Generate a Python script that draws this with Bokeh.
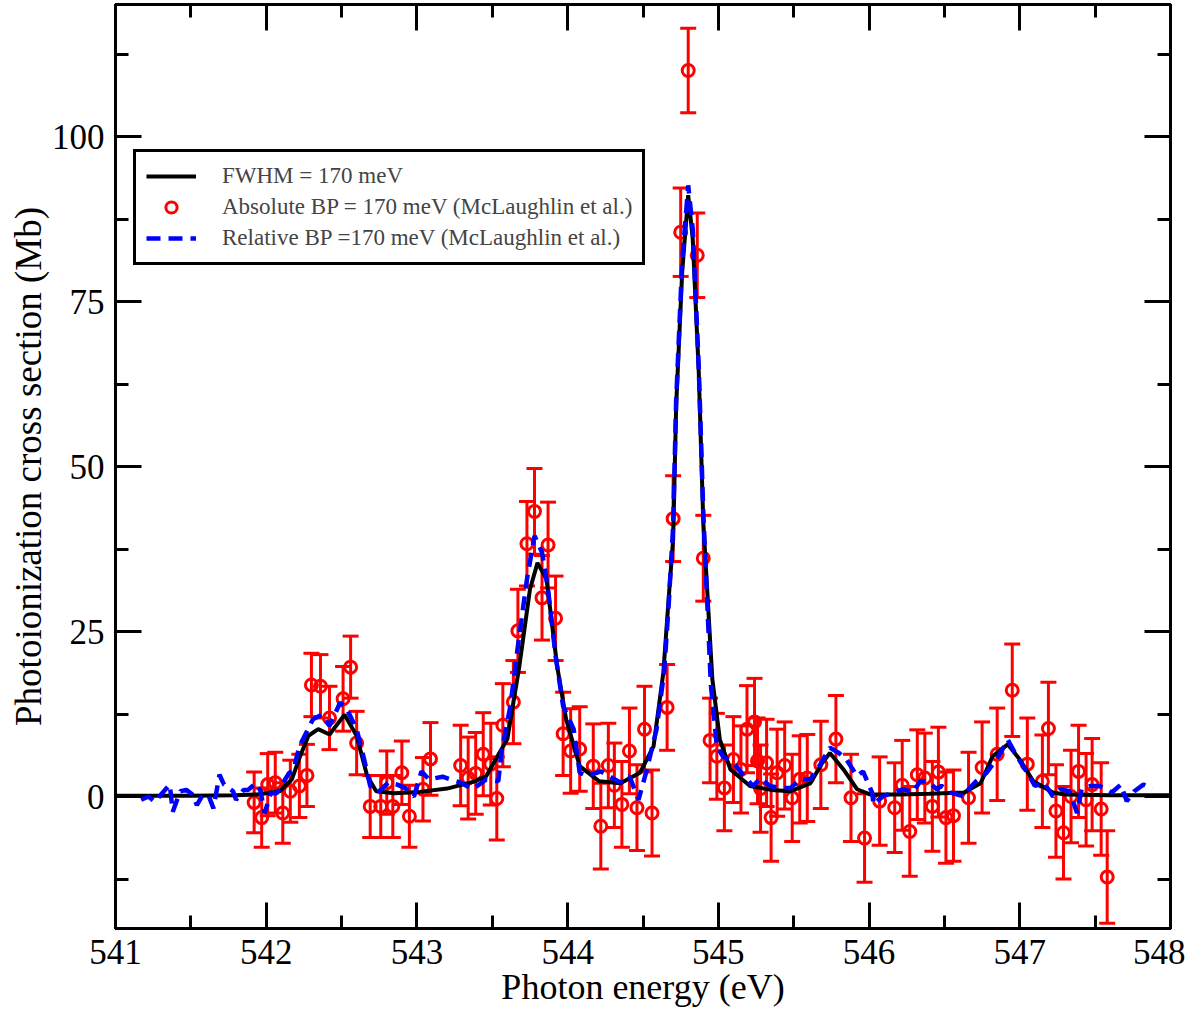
from bokeh.plotting import figure
from bokeh.models import (ColumnDataSource, Whisker, TeeHead, Legend, LegendItem,
                          LinearAxis, Range1d, SingleIntervalTicker, CustomLabelingPolicy)
from bokeh.embed import file_html
from bokeh.resources import INLINE

# theory curve, FWHM = 170 meV
fit_x = [541.0, 541.5, 541.8, 541.94, 542.09, 542.17, 542.225, 542.28, 542.345, 542.42,
         542.52, 542.60, 542.67, 542.73, 542.85, 543.02, 543.2, 543.385, 543.46, 543.60,
         543.68, 543.75, 543.80, 543.86, 543.93, 543.99, 544.08, 544.21, 544.35, 544.48,
         544.57, 544.635, 544.67, 544.70, 544.72, 544.76, 544.80, 544.83, 544.87, 544.90,
         544.96, 545.01, 545.08, 545.21, 545.35, 545.48, 545.61, 545.69, 545.74, 545.83,
         545.92, 546.01, 546.2, 546.4, 546.63, 546.74, 546.82, 546.92, 547.00, 547.09,
         547.22, 547.3, 547.6, 548.0]
fit_y = [0.1, 0.1, 0.2, 0.3, 0.8, 2.6, 6.1, 9.2, 10.2, 9.4,
         12.4, 9.2, 3.1, 0.8, 0.5, 0.7, 1.2, 2.3, 3.1, 8.7,
         19.8, 31.4, 35.4, 32.9, 19.8, 11.7, 4.6, 2.3, 2.0, 3.6,
         7.6, 18.8, 29.9, 39.0, 59.2, 79.5, 91.1, 84.5, 64.3, 41.6,
         17.8, 8.6, 4.1, 1.6, 1.0, 0.8, 2.0, 5.1, 6.6, 4.1,
         1.1, 0.3, 0.3, 0.4, 0.6, 2.0, 6.1, 7.9, 5.6, 2.3,
         0.6, 0.3, 0.2, 0.2]

# absolute measurement (McLaughlin et al.)
abs_x = [541.92, 541.97, 542.01, 542.06, 542.11, 542.16, 542.22, 542.27, 542.30, 542.36,
         542.42, 542.51, 542.56, 542.60, 542.69, 542.76, 542.80, 542.84, 542.90, 542.95,
         543.04, 543.09, 543.29, 543.34, 543.39, 543.44, 543.49, 543.53, 543.57, 543.64,
         543.67, 543.73, 543.78, 543.83, 543.87, 543.92, 543.97, 544.02, 544.08, 544.17,
         544.22, 544.27, 544.31, 544.36, 544.41, 544.46, 544.51, 544.56, 544.66, 544.70,
         544.75, 544.80, 544.86, 544.90, 544.945, 544.99, 545.04, 545.10, 545.15, 545.19,
         545.24, 545.26, 545.28, 545.32, 545.35, 545.39, 545.44, 545.49, 545.54, 545.59,
         545.68, 545.78, 545.88, 545.97, 546.07, 546.17, 546.22, 546.27, 546.32, 546.37,
         546.42, 546.46, 546.51, 546.56, 546.66, 546.75, 546.85, 546.95, 547.05, 547.15,
         547.19, 547.24, 547.29, 547.34, 547.39, 547.44, 547.48, 547.54, 547.58]
abs_y = [-0.9, -3.2, 1.8, 2.1, -2.5, 0.8, 1.6, 3.2, 16.9, 16.7,
         11.9, 14.8, 19.6, 8.1, -1.5, -1.5, 2.1, -1.5, 3.6, -3.0,
         1.1, 5.7, 4.7, 2.8, 3.5, 6.4, 4.9, -0.3, 10.8, 14.3,
         25.1, 38.3, 43.2, 30.1, 38.1, 27.0, 9.5, 6.9, 7.2, 4.6,
         -4.5, 4.7, 1.7, -1.2, 6.9, -1.7, 10.2, -2.5, 13.5, 42.1,
         85.5, 110.0, 82.0, 36.1, 8.5, 6.1, 1.3, 5.6, 4.1, 10.2,
         11.3, 5.4, 1.2, 5.1, -3.2, 3.6, 4.7, -0.2, 2.6, 2.8,
         4.8, 8.7, -0.2, -6.3, -0.7, -1.7, 1.7, -5.3, 3.3, 2.8,
         -1.5, 3.7, -3.2, -2.9, -0.2, 4.4, 6.4, 16.1, 4.9, 2.3,
         10.3, -2.2, -5.5, 0.0, 3.8, -0.5, 1.8, -1.9, -12.2]
abs_err = [4.6, 4.5, 4.7, 4.6, 4.6, 4.7, 4.8, 4.7, 4.8, 4.8,
           4.8, 4.9, 4.7, 4.8, 4.7, 4.7, 4.8, 4.7, 4.8, 4.7,
           4.8, 5.5, 6.1, 6.2, 6.2, 6.3, 6.2, 6.3, 6.3, 6.3,
           6.3, 6.4, 6.5, 6.4, 6.5, 6.4, 6.3, 6.4, 6.4, 6.4,
           6.5, 6.4, 6.4, 6.5, 6.5, 6.5, 6.5, 6.5, 6.5, 6.5,
           6.7, 6.4, 6.4, 6.5, 6.4, 6.5, 6.5, 6.5, 6.6, 6.6,
           6.6, 6.5, 6.6, 6.6, 6.6, 6.6, 6.6, 6.6, 6.6, 6.6,
           6.6, 6.6, 6.6, 6.7, 6.7, 6.8, 6.8, 6.8, 6.8, 6.8,
           6.8, 6.8, 6.9, 6.9, 6.9, 6.9, 7.0, 7.0, 7.0, 7.0,
           7.0, 7.0, 7.0, 7.0, 7.0, 7.0, 7.0, 7.0, 7.0]

# relative measurement (McLaughlin et al.)
rel_x = [541.17, 541.22, 541.26, 541.34, 541.36, 541.38, 541.43, 541.47, 541.51, 541.54,
         541.58, 541.62, 541.65, 541.69, 541.72, 541.78, 541.80, 541.85, 541.88, 541.93,
         541.96, 541.99, 542.03, 542.07, 542.11, 542.15, 542.18, 542.22, 542.31, 542.37,
         542.42, 542.49, 542.53, 542.60, 542.65, 542.69, 542.74, 542.81, 542.87, 542.92,
         542.98, 543.03, 543.08, 543.17, 543.29, 543.37, 543.46, 543.54, 543.56, 543.62,
         543.67, 543.73, 543.78, 543.83, 543.87, 543.92, 543.97, 544.04, 544.08, 544.13,
         544.22, 544.35, 544.41, 544.47, 544.52, 544.59, 544.64, 544.67, 544.70, 544.72,
         544.76, 544.80, 544.83, 544.87, 544.90, 544.95, 544.99, 545.03, 545.10, 545.17,
         545.23, 545.28, 545.34, 545.41, 545.48, 545.54, 545.61, 545.67, 545.74, 545.80,
         545.85, 545.92, 545.96, 546.02, 546.03, 546.09, 546.16, 546.23, 546.29, 546.34,
         546.39, 546.45, 546.48, 546.54, 546.63, 546.66, 546.71, 546.78, 546.86, 546.92,
         546.98, 547.05, 547.10, 547.16, 547.22, 547.27, 547.33, 547.38, 547.41, 547.47,
         547.53, 547.61, 547.67, 547.71, 547.76, 547.82, 547.88]
rel_y = [-0.5, 0.0, -0.8, 1.3, 1.8, -2.3, 0.8, 1.0, 0.3, -1.3,
         0.3, 0.0, -1.8, 3.3, 1.8, 0.8, -0.5, 1.0, 1.0, 2.0,
         1.0, -2.5, 0.5, 0.5, 2.0, 3.5, 4.0, 7.6, 11.7, 12.4,
         10.7, 14.2, 13.5, 10.2, 5.6, 1.6, 0.6, 2.1, 1.8, 1.3,
         0.0, 3.8, 2.6, 3.0, 2.1, 1.1, 2.6, 2.3, 6.6, 13.7,
         22.8, 32.9, 39.5, 37.0, 31.4, 21.3, 13.7, 10.2, 3.6, 3.1,
         3.8, 2.1, 3.1, -0.5, 3.6, 10.2, 18.8, 28.9, 41.0, 60.0,
         81.0, 92.6, 86.0, 65.0, 43.0, 17.0, 7.6, 6.1, 5.1, 3.1,
         1.6, 2.8, 1.6, 1.3, 1.3, 2.6, 2.6, 4.6, 7.4, 6.6,
         5.6, 3.1, 3.8, 0.6, -1.2, 0.0, 0.6, 1.1, 0.6, 2.3,
         2.3, 1.1, 1.6, 0.6, 0.0, 1.1, 2.3, 3.6, 6.1, 8.6,
         6.1, 3.6, 1.6, 2.1, 0.0, 1.1, 0.8, -2.5, 1.1, 1.6,
         1.6, 0.6, 1.8, -0.7, 0.8, 1.8, 1.1]

SERIF = "Liberation Serif"

abs_src = ColumnDataSource(data=dict(
    x=abs_x, y=abs_y,
    upper=[y + e for y, e in zip(abs_y, abs_err)],
    lower=[y - e for y, e in zip(abs_y, abs_err)],
))

p = figure(width=1185, height=1009, x_range=Range1d(541, 548), y_range=Range1d(-20, 120),
           output_backend="svg", toolbar_location=None,
           min_border_left=115, min_border_right=15, min_border_top=4, min_border_bottom=70)
p.grid.visible = False
p.outline_line_color = "black"
p.outline_line_width = 3

xticker = SingleIntervalTicker(interval=1, num_minor_ticks=2)
yticker = SingleIntervalTicker(interval=25, num_minor_ticks=2)
p.xaxis.ticker = xticker
p.yaxis.ticker = yticker
p.xaxis.axis_label = "Photon energy (eV)"
p.yaxis.axis_label = "Photoionization cross section (Mb)"

# mirrored axes keep their ticks but drop every label
no_labels = CustomLabelingPolicy(code="""
    for (const i of [...indices]) { indices.unset(i) }
    return indices
""")

def style_axis(ax, labels=True):
    ax.axis_line_color = "black"
    ax.axis_line_width = 3
    ax.major_tick_in = 26
    ax.major_tick_out = 0
    ax.minor_tick_in = 13
    ax.minor_tick_out = 0
    ax.major_tick_line_width = 3
    ax.minor_tick_line_width = 3
    ax.major_tick_line_color = "black"
    ax.minor_tick_line_color = "black"
    if labels:
        ax.major_label_text_font = SERIF
        ax.major_label_text_font_size = "35px"
        ax.major_label_text_color = "black"
        ax.major_label_standoff = 11
        ax.axis_label_text_font = SERIF
        ax.axis_label_text_font_size = "37px"
        ax.axis_label_text_font_style = "normal"
        ax.axis_label_text_color = "black"
        ax.axis_label_standoff = 0
    else:
        ax.major_label_text_font_size = "2px"
        ax.major_label_standoff = 0
        ax.major_label_policy = no_labels

style_axis(p.xaxis[0])
style_axis(p.yaxis[0])
p.xaxis[0].axis_label_text_font_size = "36px"

top_axis = LinearAxis(ticker=xticker)
right_axis = LinearAxis(ticker=yticker)
style_axis(top_axis, labels=False)
style_axis(right_axis, labels=False)
p.add_layout(top_axis, "above")
p.add_layout(right_axis, "right")

# error bars and points
p.add_layout(Whisker(source=abs_src, base="x", upper="upper", lower="lower",
                     dimension="height", line_color="#ff0000", line_width=3,
                     upper_head=TeeHead(size=16, line_color="#ff0000", line_width=3),
                     lower_head=TeeHead(size=16, line_color="#ff0000", line_width=3)))
r_abs = p.scatter("x", "y", source=abs_src, marker="circle", size=12,
                  line_color="#ff0000", line_width=3, fill_color=None)

r_fit = p.line(fit_x, fit_y, line_color="black", line_width=4)
r_rel = p.line(rel_x, rel_y, line_color="#0000ff", line_width=4.5, line_dash="14 8")

legend = Legend(items=[
    LegendItem(label="FWHM = 170 meV", renderers=[r_fit]),
    LegendItem(label="Absolute BP = 170 meV (McLaughlin et al.)", renderers=[r_abs]),
    LegendItem(label="Relative BP =170 meV (McLaughlin et al.)", renderers=[r_rel]),
], location=(18, 663))
legend.label_text_font = SERIF
legend.label_text_font_size = "23px"
legend.label_height = 28
legend.glyph_height = 28
legend.glyph_width = 50
legend.label_standoff = 26
legend.spacing = 3
legend.padding = 10
legend.margin = 0
legend.border_line_color = "black"
legend.border_line_width = 3
legend.border_line_alpha = 1.0
legend.background_fill_color = "white"
legend.background_fill_alpha = 1.0
p.add_layout(legend)

open("out.html", "w").write(file_html(p, INLINE))
